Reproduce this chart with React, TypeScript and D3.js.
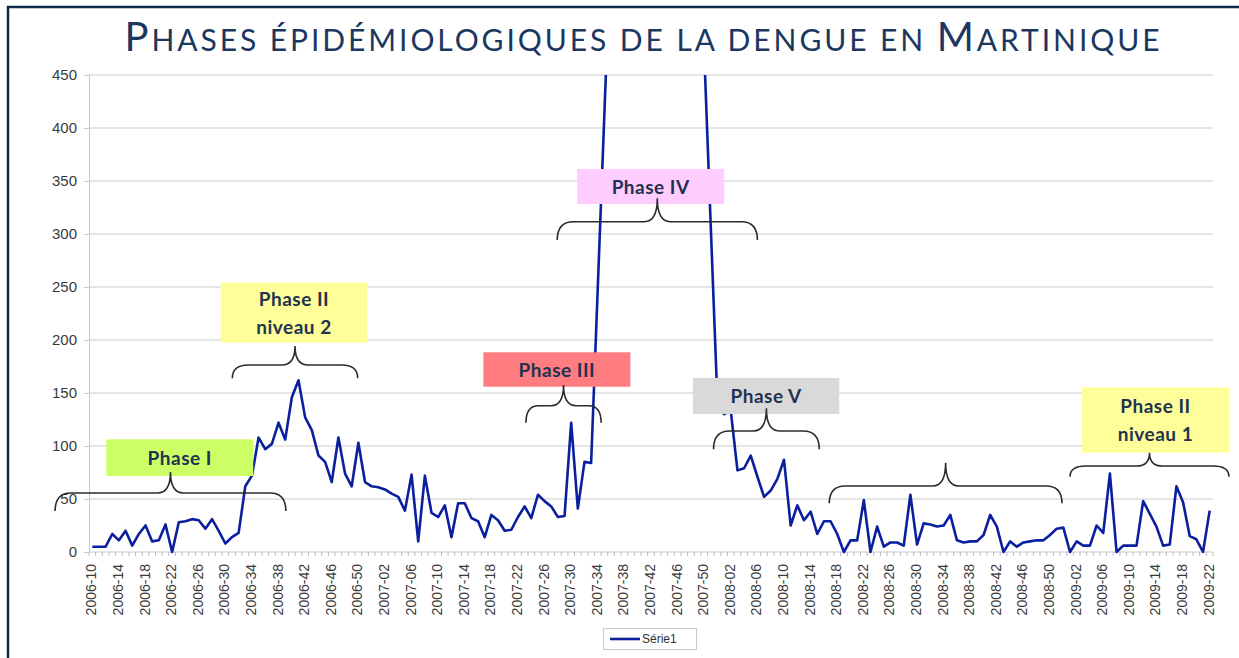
// App.tsx
import React, { useEffect, useRef } from 'react';
import * as d3 from 'd3';

// Category axis: weeks from 2006-10 to 2009-22
const years = [2006, 2007, 2008, 2009];
const firstWeeks = [10, 1, 1, 1];
const lastWeeks = [52, 52, 52, 22];

const weeks: string[] = years.flatMap((yr, k) =>
  d3.range(firstWeeks[k], lastWeeks[k] + 1).map(w => `${yr}-${String(w).padStart(2, '0')}`)
);

// Série1 - weekly cases (the 2007 epidemic runs off the top of the 0-450 axis)
const cases = [
  5, 5, 5, 17, 11, 20, 6, 17, 25, 10,
  11, 26, 0, 28, 29, 31, 30, 22, 31, 20,
  8, 14, 18, 62, 72, 108, 97, 102, 122, 106,
  146, 162, 127, 115, 91, 85, 66, 108, 74, 62,
  103, 66, 62, 61, 59, 55, 52, 39, 73, 10,
  72, 37, 33, 44, 14, 46, 46, 32, 29, 14,
  35, 30, 20, 21, 33, 43, 32, 54, 48, 43,
  33, 34, 122, 41, 85, 84, 250, 415, 580, 750,
  920, 1080, 1200, 1290, 1320, 1280, 1190, 1060, 920, 780,
  650, 560, 472, 305, 140, 130, 133, 77, 79, 91,
  71, 52, 58, 69, 87, 25, 44, 30, 38, 17,
  29, 29, 17, 0, 11, 11, 49, 0, 24, 5,
  9, 9, 6, 54, 7, 27, 26, 24, 25, 35,
  11, 9, 10, 10, 16, 35, 24, 0, 10, 5,
  9, 10, 11, 11, 16, 22, 23, 0, 10, 6,
  6, 25, 18, 74, 0, 6, 6, 6, 48, 36,
  24, 6, 7, 62, 47, 15, 12, 0, 39,
];

const yTicks = [0, 50, 100, 150, 200, 250, 300, 350, 400, 450];
const labelEvery = 4; // one label every 4 weeks

// Phase labels, placed in data units (week index, number of cases)
const phaseLabels = [
  { lines: ['Phase I'], fill: '#ccff66', i0: 2.1, i1: 24.2, v0: 71.7, v1: 106.3 },
  { lines: ['Phase II', 'niveau 2'], fill: '#ffff99', i0: 19.3, i1: 41.35, v0: 197.5, v1: 254 },
  { lines: ['Phase III'], fill: '#ff7c80', i0: 58.8, i1: 80.9, v0: 155.9, v1: 188.4 },
  { lines: ['Phase IV'], fill: '#ffccff', i0: 72.9, i1: 95.0, v0: 328.3, v1: 361.3 },
  { lines: ['Phase V'], fill: '#d9d9d9', i0: 90.3, i1: 112.3, v0: 130.2, v1: 164.2 },
  { lines: ['Phase II', 'niveau 1'], fill: '#ffff99', i0: 148.8, i1: 170.9, v0: 93.7, v1: 155.4 },
];

// Curly braces under each label
const braces = [
  { i0: -5.6, i1: 29.1, vLine: 55.7, vEnd: 38.7, vTip: 75.5 },
  { i0: 21.05, i1: 39.9, vLine: 176.4, vEnd: 163.9, vTip: 194.3 },
  { i0: 65.2, i1: 76.5, vLine: 138, vEnd: 122, vTip: 157.5 },
  { i0: 69.9, i1: 100, vLine: 311.6, vEnd: 294.3, vTip: 333.7 },
  { i0: 93.4, i1: 109.3, vLine: 114.2, vEnd: 96.9, vTip: 135.6 },
  { i0: 110.8, i1: 145.8, vLine: 62.3, vEnd: 45.9, vTip: 84.2 },
  { i0: 147, i1: 170.9, vLine: 81.1, vEnd: 71, vTip: 93.7 },
];

const bracePath = (x0: number, x1: number, yLine: number, yEnd: number, yTip: number) => {
  const xm = (x0 + x1) / 2;
  const r = Math.min(16, (x1 - x0) / 6);
  const rt = Math.min(13, (x1 - x0) / 6);
  return `M${x0},${yEnd} Q${x0},${yLine} ${x0 + r},${yLine} L${xm - rt},${yLine} ` +
    `Q${xm},${yLine} ${xm},${yTip} Q${xm},${yLine} ${xm + rt},${yLine} ` +
    `L${x1 - r},${yLine} Q${x1},${yLine} ${x1},${yEnd}`;
};

const App = () => {
  const d3Container = useRef<HTMLDivElement>(null);
  const width = 1239;
  const height = 658;
  const plot = { left: 89, right: 1213, top: 75, bottom: 552 };

  useEffect(() => {
    if (!d3Container.current) return;
    d3.select(d3Container.current).selectAll('*').remove();

    const svg = d3.select(d3Container.current)
      .append('svg')
      .attr('width', width)
      .attr('height', height)
      .style('position', 'absolute')
      .style('left', 0)
      .style('top', 0)
      .style('background', '#ffffff');

    // Scales
    const x = d3.scaleBand<string>().domain(weeks).range([plot.left, plot.right]);
    const bw = x.bandwidth();
    const cx = (i: number) => (x(weeks[i]) as number) + bw / 2;
    const xi = d3.scaleLinear().domain([0, weeks.length - 1]).range([cx(0), cx(weeks.length - 1)]);
    const y = d3.scaleLinear().domain([0, 450]).range([plot.bottom, plot.top]);

    // Frame
    svg.append('path')
      .attr('d', `M8,${height} L8,7 L${width},7`)
      .attr('fill', 'none')
      .attr('stroke', '#0f2748')
      .attr('stroke-width', 2.5);

    // Gridlines
    svg.append('g')
      .selectAll('line')
      .data(yTicks.filter(t => t > 0))
      .join('line')
      .attr('x1', plot.left)
      .attr('x2', plot.right)
      .attr('y1', d => y(d))
      .attr('y2', d => y(d))
      .attr('stroke', '#dcdcdc')
      .attr('stroke-width', 1.3);

    // Y axis
    const yAxis = svg.append('g')
      .attr('transform', `translate(${plot.left},0)`)
      .call(d3.axisLeft(y).tickValues(yTicks).tickSize(5).tickPadding(7));
    yAxis.select('.domain').attr('stroke', '#c8c8c8');
    yAxis.selectAll('.tick line').attr('stroke', '#c8c8c8');
    yAxis.selectAll('.tick text')
      .attr('fill', '#3a3a3a')
      .style('font-family', 'Arial, "Liberation Sans", sans-serif')
      .style('font-size', '15px');

    // X axis: base line, one small tick per week, rotated labels every 4 weeks
    svg.append('line')
      .attr('x1', plot.left).attr('x2', plot.right)
      .attr('y1', plot.bottom).attr('y2', plot.bottom)
      .attr('stroke', '#c8c8c8');
    svg.append('g')
      .selectAll('line')
      .data(d3.range(weeks.length + 1))
      .join('line')
      .attr('x1', i => plot.left + i * bw)
      .attr('x2', i => plot.left + i * bw)
      .attr('y1', plot.bottom)
      .attr('y2', plot.bottom + 4)
      .attr('stroke', '#bdbdbd');
    svg.append('g')
      .selectAll('text')
      .data(weeks.filter((_, i) => i % labelEvery === 0))
      .join('text')
      .attr('transform', d => `translate(${(x(d) as number) + bw / 2 - 1},${plot.bottom + 12}) rotate(-90)`)
      .attr('text-anchor', 'end')
      .attr('dominant-baseline', 'central')
      .attr('fill', '#3a3a3a')
      .style('font-family', 'Arial, "Liberation Sans", sans-serif')
      .style('font-size', '14px')
      .text(d => d);

    // Data line, clipped to the plot area
    svg.append('clipPath')
      .attr('id', 'plot-clip')
      .append('rect')
      .attr('x', plot.left)
      .attr('y', plot.top)
      .attr('width', plot.right - plot.left)
      .attr('height', plot.bottom - plot.top + 6);

    const line = d3.line<number>()
      .x((_, i) => cx(i))
      .y(d => y(d));

    svg.append('path')
      .datum(cases)
      .attr('clip-path', 'url(#plot-clip)')
      .attr('d', line)
      .attr('fill', 'none')
      .attr('stroke', '#0a1f9e')
      .attr('stroke-width', 2.6)
      .attr('stroke-linejoin', 'round');

    // Phase labels
    const labels = svg.append('g')
      .selectAll('g')
      .data(phaseLabels)
      .join('g');

    labels.append('rect')
      .attr('x', d => xi(d.i0))
      .attr('y', d => y(d.v1))
      .attr('width', d => xi(d.i1) - xi(d.i0))
      .attr('height', d => y(d.v0) - y(d.v1))
      .attr('fill', d => d.fill);

    labels.each(function (d) {
      const g = d3.select(this);
      const mx = (xi(d.i0) + xi(d.i1)) / 2;
      const my = (y(d.v0) + y(d.v1)) / 2;
      const lh = 28;
      d.lines.forEach((t, k) => {
        g.append('text')
          .attr('x', mx)
          .attr('y', my + (k - (d.lines.length - 1) / 2) * lh)
          .attr('text-anchor', 'middle')
          .attr('dominant-baseline', 'central')
          .attr('fill', '#22324f')
          .style('font-family', 'Lato, "Open Sans", sans-serif')
          .style('font-weight', 700)
          .style('font-size', '19px')
          .style('letter-spacing', '0.5px')
          .text(t);
      });
    });

    // Braces
    svg.append('g')
      .selectAll('path')
      .data(braces)
      .join('path')
      .attr('d', b => bracePath(xi(b.i0), xi(b.i1), y(b.vLine), y(b.vEnd), y(b.vTip)))
      .attr('fill', 'none')
      .attr('stroke', '#2b2b2b')
      .attr('stroke-width', 1.6);

    // Title (small caps)
    const title = svg.append('text')
      .attr('x', 642)
      .attr('y', 51)
      .attr('text-anchor', 'middle')
      .attr('fill', '#1b375f')
      .attr('textLength', 1035)
      .attr('lengthAdjust', 'spacing')
      .style('font-family', 'Lato, "Open Sans", sans-serif');
    const titleParts: [string, number][] = [
      ['P', 40], ['HASES ÉPIDÉMIOLOGIQUES DE LA DENGUE EN ', 30], ['M', 40], ['ARTINIQUE', 30],
    ];
    titleParts.forEach(([t, s]) => {
      title.append('tspan').style('font-size', `${s}px`).text(t);
    });

    // Legend
    const legend = svg.append('g');
    legend.append('rect')
      .attr('x', 603.5).attr('y', 628.5)
      .attr('width', 93).attr('height', 21)
      .attr('fill', '#ffffff')
      .attr('stroke', '#c8c8c8');
    legend.append('line')
      .attr('x1', 610).attr('x2', 640)
      .attr('y1', 639).attr('y2', 639)
      .attr('stroke', '#0a1f9e')
      .attr('stroke-width', 2.6);
    legend.append('text')
      .attr('x', 642).attr('y', 639)
      .attr('dominant-baseline', 'central')
      .attr('fill', '#303030')
      .style('font-family', 'Arial, "Liberation Sans", sans-serif')
      .style('font-size', '12px')
      .text('Série1');
  }, []);

  return <div className="EpidemicPhasesChart" ref={d3Container} />;
};

export default App;
